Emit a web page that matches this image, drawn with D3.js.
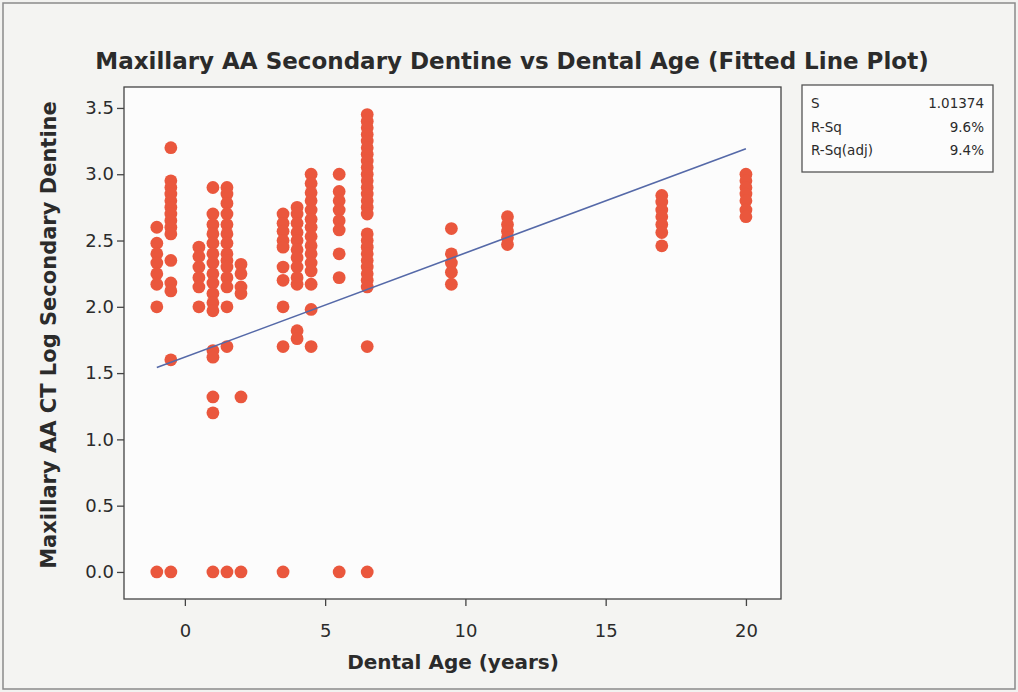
<!DOCTYPE html>
<html>
<head>
<meta charset="utf-8">
<script src="https://cdn.jsdelivr.net/npm/d3@7"></script>
<style>
  body { margin: 0; background: #f2f2f0; }
  text { font-family: "DejaVu Sans", sans-serif; fill: #2b2b2b; }
</style>
</head>
<body>
<div id="chart"></div>
<script>
// dental age groups (years) and the log secondary dentine readings in each
var ageGroups = [-1, -0.5, 0.5, 1, 1.5, 2, 3.5, 4, 4.5, 5.5, 6.5, 9.5, 11.5, 17, 20];
var dentineByAge = [
    [2.6, 2.48, 2.4, 2.33, 2.25, 2.17, 2.0, 0],
    [3.2, 2.95, 2.9, 2.85, 2.8, 2.75, 2.7, 2.65, 2.6, 2.55, 2.35, 2.18, 2.12, 1.6, 0],
    [2.45, 2.38, 2.3, 2.22, 2.15, 2.0],
    [2.9, 2.7, 2.62, 2.55, 2.48, 2.4, 2.33, 2.25, 2.18, 2.1, 2.03, 1.97, 1.67, 1.62, 1.32, 1.2, 0],
    [2.9, 2.85, 2.78, 2.7, 2.62, 2.55, 2.48, 2.4, 2.35, 2.3, 2.22, 2.15, 2.0, 1.7, 0],
    [2.32, 2.25, 2.15, 2.1, 1.32, 0],
    [2.7, 2.63, 2.57, 2.5, 2.45, 2.3, 2.2, 2.0, 1.7, 0],
    [2.75, 2.7, 2.63, 2.56, 2.5, 2.43, 2.37, 2.3, 2.22, 2.17, 1.82, 1.76],
    [3.0, 2.93, 2.86, 2.8, 2.73, 2.66, 2.6, 2.53, 2.46, 2.4, 2.33, 2.27, 2.17, 1.98, 1.7],
    [3.0, 2.87, 2.8, 2.73, 2.65, 2.58, 2.4, 2.22, 0],
    [3.45, 3.4, 3.35, 3.3, 3.25, 3.2, 3.15, 3.1, 3.05, 3.0, 2.95, 2.9, 2.85, 2.8, 2.75, 2.7,
     2.55, 2.5, 2.45, 2.4, 2.35, 2.3, 2.25, 2.2, 2.15, 1.7, 0],
    [2.59, 2.4, 2.33, 2.26, 2.17],
    [2.68, 2.62, 2.57, 2.52, 2.47],
    [2.84, 2.79, 2.73, 2.68, 2.62, 2.56, 2.46],
    [3.0, 2.95, 2.9, 2.85, 2.8, 2.73, 2.68]
];

// fitted regression line
var fitIntercept = 1.62;
var fitSlope = 0.0786;
var fitRange = [-1, 20];

var xTicks = [0, 5, 10, 15, 20];
var yTicks = [0, 0.5, 1, 1.5, 2, 2.5, 3, 3.5];

var statNames = ["S", "R-Sq", "R-Sq(adj)"];
var statValues = ["1.01374", "9.6%", "9.4%"];

var width = 1018, height = 692;
var plot = {left: 124, right: 781, top: 87, bottom: 599};

var svg = d3.select("#chart").append("svg")
    .attr("width", width)
    .attr("height", height);

// outer frame
svg.append("rect")
    .attr("x", 3).attr("y", 3)
    .attr("width", width - 6).attr("height", height - 6)
    .attr("fill", "#f4f4f2")
    .attr("stroke", "#8a8a8a")
    .attr("stroke-width", 1.5);

var x = d3.scaleLinear().domain([-2.17, 21.25]).range([plot.left, plot.right]);
var y = d3.scaleLinear().domain([-0.204, 3.658]).range([plot.bottom, plot.top]);

// plot area
svg.append("rect")
    .attr("x", plot.left).attr("y", plot.top)
    .attr("width", plot.right - plot.left).attr("height", plot.bottom - plot.top)
    .attr("fill", "#fcfcfc")
    .attr("stroke", "#444")
    .attr("stroke-width", 1.3);

var points = [];
ageGroups.forEach(function(a, i) {
    dentineByAge[i].forEach(function(v) { points.push({age: a, val: v}); });
});

svg.append("g").selectAll("circle")
    .data(points)
    .enter().append("circle")
    .attr("cx", function(d) { return x(d.age); })
    .attr("cy", function(d) { return y(d.val); })
    .attr("r", 6.4)
    .attr("fill", "#ea573d");

var line = d3.line()
    .x(function(d) { return x(d); })
    .y(function(d) { return y(fitIntercept + fitSlope * d); });

svg.append("path")
    .datum(fitRange)
    .attr("d", line)
    .attr("fill", "none")
    .attr("stroke", "#5569a8")
    .attr("stroke-width", 1.6);

// axes
var xAxis = svg.append("g")
    .attr("transform", "translate(0," + plot.bottom + ")")
    .call(d3.axisBottom(x).tickValues(xTicks).tickSize(7).tickPadding(18).tickFormat(d3.format("d")));
var yAxis = svg.append("g")
    .attr("transform", "translate(" + plot.left + ",0)")
    .call(d3.axisLeft(y).tickValues(yTicks).tickSize(7).tickPadding(3).tickFormat(d3.format(".1f")));

[xAxis, yAxis].forEach(function(ax) {
    ax.select(".domain").remove();
    ax.selectAll(".tick line").attr("stroke", "#444").attr("stroke-width", 1.3);
    ax.selectAll(".tick text").style("font-size", "18px").attr("fill", "#2b2b2b");
});

// titles
svg.append("text")
    .attr("x", 512).attr("y", 69)
    .attr("text-anchor", "middle")
    .style("font-size", "23px").style("font-weight", "bold")
    .text("Maxillary AA Secondary Dentine vs Dental Age (Fitted Line Plot)");

svg.append("text")
    .attr("x", 453).attr("y", 669)
    .attr("text-anchor", "middle")
    .style("font-size", "20px").style("font-weight", "bold")
    .text("Dental Age (years)");

svg.append("text")
    .attr("transform", "translate(56,335) rotate(-90)")
    .attr("text-anchor", "middle")
    .style("font-size", "21px").style("font-weight", "bold")
    .text("Maxillary AA CT Log Secondary Dentine");

// stats box
var box = svg.append("g").attr("transform", "translate(802,85)");
box.append("rect")
    .attr("width", 191).attr("height", 87)
    .attr("fill", "#fcfcfc")
    .attr("stroke", "#555")
    .attr("stroke-width", 1.3);
statNames.forEach(function(n, i) {
    box.append("text").attr("x", 9).attr("y", 23 + i * 23.5)
        .style("font-size", "13.5px").text(n);
    box.append("text").attr("x", 182).attr("y", 23 + i * 23.5)
        .attr("text-anchor", "end")
        .style("font-size", "13.5px").text(statValues[i]);
});
</script>
</body>
</html>
